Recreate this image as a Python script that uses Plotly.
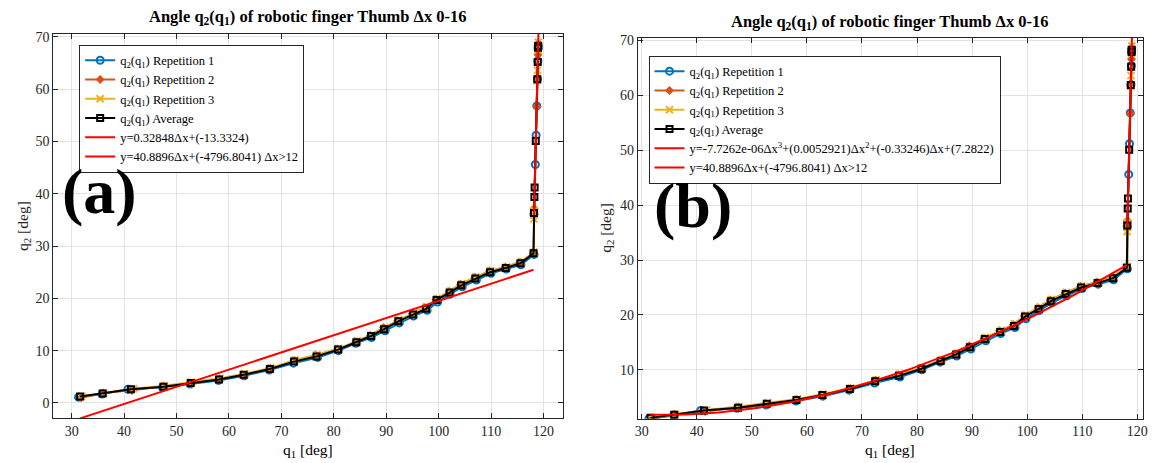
import numpy as np
import plotly.graph_objects as go

# ---- measured joint angles (Δx = 0 ... 16, step 0.5) ----
avg_q1 = [31.6, 35.9, 41.3, 47.5, 52.7, 58.1, 62.8, 67.8, 72.4, 76.7, 80.8, 84.3, 87.1, 89.6, 92.3,
          95.1, 97.6, 99.6, 102.1, 104.3, 107.0, 109.8, 112.8, 115.6, 118.1,
          118.19, 118.27, 118.31, 118.53, 118.82, 118.90, 118.97, 118.99]
avg_q2 = [1.25, 1.8, 2.6, 3.1, 3.8, 4.5, 5.4, 6.5, 7.9, 8.9, 10.2, 11.6, 12.8, 14.1, 15.6,
          16.9, 18.0, 19.7, 21.1, 22.5, 23.8, 25.0, 25.8, 26.7, 28.6,
          36.3, 39.4, 41.2, 50.1, 61.9, 65.2, 67.9, 68.3]

rep1_q1 = [31.3, 35.8, 40.7, 47.3, 52.6, 58.0, 62.9, 67.7, 72.3, 76.9, 80.9, 84.2, 87.2, 89.8, 92.5,
           95.2, 97.8, 99.8, 102.2, 104.5, 107.2, 110.0, 112.9, 115.7, 118.2,
           118.18, 118.45, 118.59, 118.73, 118.85, 118.93, 118.97, 118.99]
rep1_q2 = [1.1, 1.7, 2.6, 3.0, 3.6, 4.3, 5.2, 6.3, 7.6, 8.7, 10.0, 11.4, 12.5, 13.8, 15.3,
           16.6, 17.7, 19.3, 20.8, 22.2, 23.5, 24.8, 25.6, 26.4, 28.4,
           36.1, 45.6, 51.2, 56.8, 61.9, 65.4, 67.8, 68.2]

rep2_q1 = [31.8, 36.0, 41.5, 47.6, 52.8, 58.2, 62.7, 67.9, 72.5, 76.6, 80.7, 84.4, 87.0, 89.5, 92.2,
           95.0, 97.5, 99.5, 102.0, 104.2, 106.9, 109.7, 112.7, 115.5, 118.1,
           118.21, 118.22, 118.22, 118.74, 118.88, 118.95, 119.00, 119.01]
rep2_q2 = [1.0, 1.9, 2.4, 3.2, 3.7, 4.6, 5.3, 6.6, 8.1, 9.1, 10.3, 11.7, 12.9, 14.4, 15.7,
           17.1, 18.2, 19.8, 21.3, 22.7, 24.0, 25.2, 26.0, 26.9, 28.7,
           36.6, 36.9, 37.2, 56.7, 62.2, 66.6, 68.3, 68.7]

rep3_q1 = [31.9, 36.1, 41.8, 47.7, 52.9, 58.3, 63.0, 68.0, 72.6, 76.8, 80.9, 84.5, 87.3, 89.7, 92.4,
           95.3, 97.7, 99.7, 102.3, 104.4, 107.1, 109.9, 113.0, 115.8, 118.2,
           118.20, 118.18, 118.16, 118.21, 118.81, 118.86, 118.96, 119.02]
rep3_q2 = [1.3, 1.9, 2.7, 3.3, 4.0, 4.7, 5.6, 6.7, 8.2, 9.2, 10.4, 11.9, 13.0, 14.3, 15.9,
           17.2, 18.4, 20.0, 21.4, 22.8, 24.1, 25.3, 26.0, 27.0, 28.8,
           36.5, 35.9, 35.2, 36.8, 61.6, 63.6, 67.6, 69.0]

# ---- fitted models ----
lin_coef = [0.32848, -13.3324]                            # panel (a), whole range
cubic_coef = [-7.7262e-06, 0.0052921, -0.33246, 7.2822]   # panel (b), Δx <= 12
steep_coef = [40.8896, -4796.8041]                        # both panels, Δx > 12
split_index = 25                                          # first sample with Δx > 12
steep_end_q1 = 119.1

x_ticks = [30, 40, 50, 60, 70, 80, 90, 100, 110, 120]
y_ticks = [0, 10, 20, 30, 40, 50, 60, 70]

FONT = "Liberation Serif"
C_BLUE, C_ORANGE, C_YELLOW = "#0072BD", "#D95319", "#EDB120"
AX_COL = "#262626"

fig = go.Figure()


def add_panel(xa, ya, leg, fit_name, fit_x, fit_y):
    common = dict(xaxis=xa, yaxis=ya, legend=leg, mode="lines+markers")
    fig.add_trace(go.Scatter(x=rep1_q1, y=rep1_q2, name="q<sub>2</sub>(q<sub>1</sub>) Repetition 1",
                             line=dict(color=C_BLUE, width=2),
                             marker=dict(symbol="circle-open", size=7, color=C_BLUE, line=dict(width=2)),
                             **common))
    fig.add_trace(go.Scatter(x=rep2_q1, y=rep2_q2, name="q<sub>2</sub>(q<sub>1</sub>) Repetition 2",
                             line=dict(color=C_ORANGE, width=2),
                             marker=dict(symbol="diamond", size=7, color=C_ORANGE), **common))
    fig.add_trace(go.Scatter(x=rep3_q1, y=rep3_q2, name="q<sub>2</sub>(q<sub>1</sub>) Repetition 3",
                             line=dict(color=C_YELLOW, width=2),
                             marker=dict(symbol="x-thin-open", size=7, color=C_YELLOW,
                                         line=dict(width=2, color=C_YELLOW)),
                             **common))
    fig.add_trace(go.Scatter(x=avg_q1, y=avg_q2, name="q<sub>2</sub>(q<sub>1</sub>) Average",
                             line=dict(color="black", width=2),
                             marker=dict(symbol="square-open", size=6, color="black", line=dict(width=2)),
                             **common))
    fig.add_trace(go.Scatter(x=fit_x, y=fit_y, name=fit_name, mode="lines",
                             line=dict(color="red", width=2), xaxis=xa, yaxis=ya, legend=leg))
    sx = np.array([avg_q1[split_index], steep_end_q1])
    sy = steep_coef[0] * sx + steep_coef[1]
    fig.add_trace(go.Scatter(x=sx, y=sy, name="y=40.8896Δx+(-4796.8041) Δx>12", mode="lines",
                             line=dict(color="red", width=2), xaxis=xa, yaxis=ya, legend=leg))


# panel (a): linear fit over the whole range
lx = np.array([avg_q1[0], avg_q1[split_index - 1]])
ly = lin_coef[0] * lx + lin_coef[1]
add_panel("x", "y", "legend", "y=0.32848Δx+(-13.3324)", lx, ly)

# panel (b): cubic fit up to Δx = 12
cx = np.linspace(avg_q1[0], avg_q1[split_index - 1], 120)
cy = np.polyval(cubic_coef, cx)
add_panel("x2", "y2", "legend2",
          "y=-7.7262e-06Δx<sup>3</sup>+(0.0052921)Δx<sup>2</sup>+(-0.33246)Δx+(7.2822)", cx, cy)

W, H = 1157, 463
axis_style = dict(showline=True, mirror="ticks", linecolor=AX_COL, linewidth=1,
                  ticks="inside", ticklen=5, tickcolor=AX_COL,
                  showgrid=True, gridcolor="#e3e3e3", gridwidth=1, zeroline=False,
                  tickfont=dict(family=FONT, size=14, color=AX_COL))
legend_style = dict(xanchor="left", yanchor="top", bgcolor="white", bordercolor=AX_COL, borderwidth=1,
                    font=dict(family=FONT, size=12.5, color="black"), itemwidth=30, tracegroupgap=0)

fig.update_layout(
    width=W, height=H, autosize=False,
    margin=dict(l=0, r=0, t=0, b=0),
    paper_bgcolor="white", plot_bgcolor="white",
    font=dict(family=FONT, color="black"),
    xaxis=dict(domain=[50.7 / W, 564.3 / W], range=[26.5, 123.8], tickvals=x_ticks, anchor="y", **axis_style),
    yaxis=dict(domain=[(H - 417.7) / H, (H - 30) / H], range=[-2.9, 70.6], tickvals=y_ticks, anchor="x", **axis_style),
    xaxis2=dict(domain=[639.3 / W, 1147.7 / W], range=[29.3, 121.0], tickvals=x_ticks, anchor="y2", **axis_style),
    yaxis2=dict(domain=[(H - 418.3) / H, (H - 34) / H], range=[1.1, 70.5], tickvals=y_ticks, anchor="x2", **axis_style),
    legend=dict(x=76.7 / W, y=1 - 41 / H, **legend_style),
    legend2=dict(x=650 / W, y=1 - 52 / H, **legend_style),
)

title = "<b>Angle q<sub>2</sub>(q<sub>1</sub>) of robotic finger Thumb Δx 0-16</b>"
ann = [
    dict(text=title, x=307.5 / W, y=1 - 13 / H, size=16.5),
    dict(text=title, x=893.5 / W, y=1 - 18 / H, size=16.5),
    dict(text="q<sub>1</sub> [deg]", x=307.5 / W, y=1 - 450 / H, size=15.5),
    dict(text="q<sub>1</sub> [deg]", x=893.5 / W, y=1 - 450 / H, size=15.5),
    dict(text="<b>(a)</b>", x=97 / W, y=1 - 189 / H, size=64),
    dict(text="<b>(b)</b>", x=695 / W, y=1 - 203 / H, size=64),
]
for a in ann:
    fig.add_annotation(text=a["text"], x=a["x"], y=a["y"], xref="paper", yref="paper",
                       xanchor="center", yanchor="middle", showarrow=False,
                       font=dict(family=FONT, size=a["size"], color="black"))
for xp, yp in [(20, 224), (607, 226)]:
    fig.add_annotation(text="q<sub>2</sub> [deg]", x=xp / W, y=1 - yp / H, xref="paper", yref="paper",
                       xanchor="center", yanchor="middle", showarrow=False, textangle=-90,
                       font=dict(family=FONT, size=15.5, color=AX_COL))

fig.write_html("out.html")
